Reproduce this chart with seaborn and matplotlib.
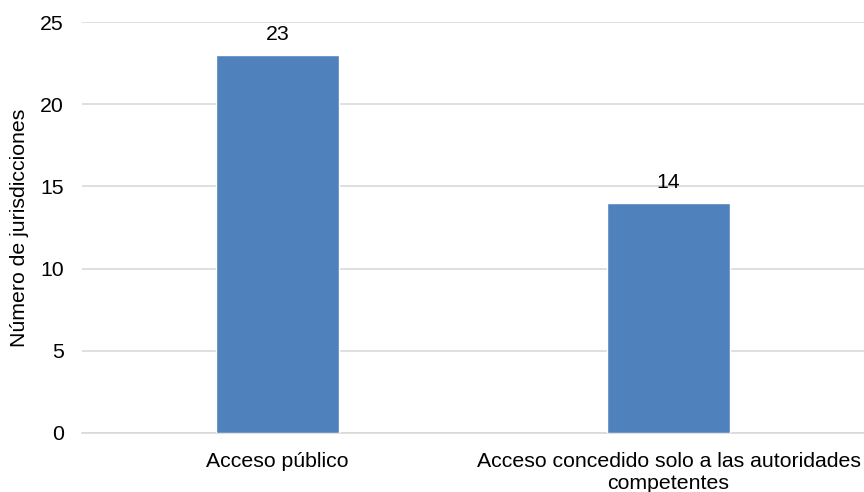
import matplotlib
matplotlib.use("Agg")
import matplotlib.pyplot as plt
import seaborn as sns
import pandas as pd

categories = ["Acceso público", "Acceso concedido solo a las autoridades\ncompetentes"]
values = [23, 14]
yticks = [0, 5, 10, 15, 20, 25]

sns.set_theme(style="white")
plt.rcParams["font.family"] = ["Liberation Sans", "DejaVu Sans"]

df = pd.DataFrame({"categoria": categories, "jurisdicciones": values})

fig = plt.figure(figsize=(8.64, 4.92), dpi=100)
ax = fig.add_axes([0.095, 0.12, 0.905, 0.835])

sns.barplot(data=df, x="categoria", y="jurisdicciones", color="#4f81bd",
            saturation=1, width=0.315, ax=ax, zorder=3)

fs = 15.3
ax.set_ylim(0, 25)
ax.set_yticks(yticks)
ax.set_yticklabels([str(t) for t in yticks])
ax.grid(axis="y", color="#d9d9d9", linewidth=1.2, zorder=0)
ax.set_axisbelow(True)
for s in ["top", "right", "left"]:
    ax.spines[s].set_visible(False)
ax.spines["bottom"].set_color("#d9d9d9")
ax.spines["bottom"].set_linewidth(1.2)

ax.tick_params(axis="both", length=0, labelsize=fs, colors="black")
ax.tick_params(axis="x", pad=14)
ax.tick_params(axis="y", pad=13)
for lbl in ax.get_xticklabels():
    lbl.set_linespacing(1.15)
ax.set_xlabel("")
ax.set_ylabel("Número de jurisdicciones", fontsize=fs, color="black", labelpad=8)

for c in ax.containers:
    ax.bar_label(c, labels=[str(v) for v in values], padding=8, fontsize=fs, color="black")

fig.savefig("out.png", dpi=100)
